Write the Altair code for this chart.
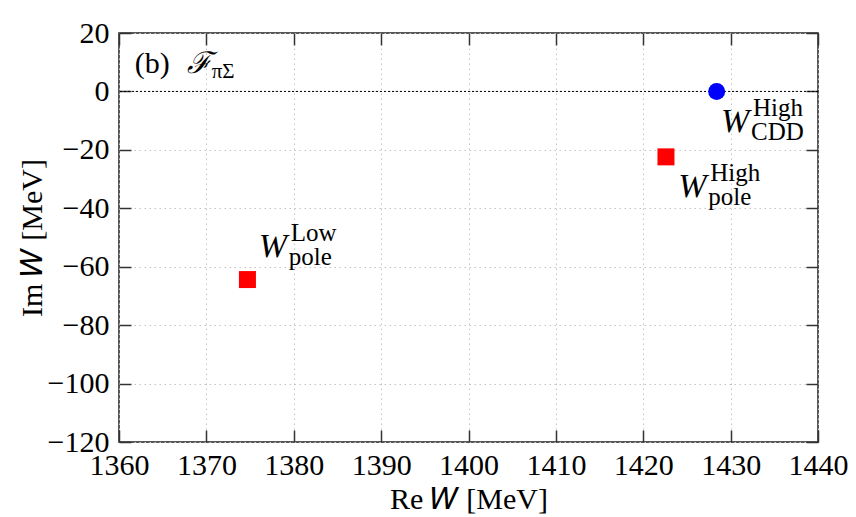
import altair as alt
import pandas as pd

# ---- data ----
pole_re = [1374.7, 1422.6]
pole_im = [-64.4, -22.4]
cdd_re = [1428.4]
cdd_im = [0.0]

# label anchors (left / baseline of the big W)
lab_re = [1428.9, 1424.0, 1376.0]
lab_im = [-13.8, -36.0, -56.6]
lab_sup = ["High", "High", "Low"]
lab_sub = ["CDD", "pole", "pole"]

panel_re = [1361.8]
panel_im = [6.3]
panel_txt = ["(b)"]
panel_sym = ["\u2131"]
panel_sub = ["\u03c0\u03a3"]

x_ticks = [1360, 1370, 1380, 1390, 1400, 1410, 1420, 1430, 1440]
y_ticks = [-120, -100, -80, -60, -40, -20, 0, 20]

W, H = 699, 409
FONT = "Liberation Serif"

poles = pd.DataFrame({"re": pole_re, "im": pole_im})
cdd = pd.DataFrame({"re": cdd_re, "im": cdd_im})
labels = pd.DataFrame({"re": lab_re, "im": lab_im, "sup": lab_sup, "sub": lab_sub, "w": ["W"] * 3})
panel = pd.DataFrame({"re": panel_re, "im": panel_im, "t": panel_txt, "s": panel_sym, "u": panel_sub})

xs = alt.Scale(domain=[1360, 1440], nice=False, zero=False)
ys = alt.Scale(domain=[-120, 20], nice=False, zero=False)

tick_style = dict(labels=False, domain=False, grid=False, title=None, ticks=True,
                  tickSize=12, tickWidth=1.5, tickColor="#333333")

label_style = dict(labelFont=FONT, labelFontSize=30, labelColor="black",
                   titleFont=FONT, titleFontSize=30, titleColor="black", titleFontWeight="normal",
                   labelOverlap=False, labelFlush=False, ticks=False, domain=False, grid=True,
                   format="d")

main_x = alt.Axis(values=x_ticks, orient="bottom", title="Re \U0001D44A [MeV]",
                  labelPadding=8, titlePadding=4, **label_style)
main_y = alt.Axis(values=y_ticks, orient="left", title="Im \U0001D44A [MeV]",
                  labelPadding=10, titlePadding=0, **label_style)

squares = alt.Chart(poles).mark_square(color="#ff0000", size=289, opacity=1).encode(
    x=alt.X("re:Q", scale=xs, axis=main_x),
    y=alt.Y("im:Q", scale=ys, axis=main_y),
)

circle = alt.Chart(cdd).mark_circle(color="#0000ff", size=289, opacity=1).encode(
    x=alt.X("re:Q", scale=xs, axis=alt.Axis(values=x_ticks, orient="top", offset=-H, **tick_style)),
    y=alt.Y("im:Q", scale=ys, axis=alt.Axis(values=y_ticks, orient="right", offset=-W, **tick_style)),
)

zero = alt.Chart(cdd).mark_rule(color="black", strokeDash=[2, 2], strokeWidth=1).encode(
    y=alt.Y("im:Q", scale=ys, axis=None),
)

wtext = alt.Chart(labels).mark_text(font=FONT, fontStyle="italic", fontSize=34, align="left",
                                     baseline="alphabetic", color="black").encode(
    x=alt.X("re:Q", scale=xs, axis=alt.Axis(values=x_ticks, orient="bottom", offset=-H, **tick_style)),
    y=alt.Y("im:Q", scale=ys, axis=alt.Axis(values=y_ticks, orient="left", offset=-W, **tick_style)),
    text="w:N",
)
suptext = alt.Chart(labels).mark_text(font=FONT, fontSize=25, align="left", baseline="alphabetic",
                                       dx=32, dy=-16, color="black").encode(
    x=alt.X("re:Q", scale=xs, axis=None), y=alt.Y("im:Q", scale=ys, axis=None), text="sup:N")
subtext = alt.Chart(labels).mark_text(font=FONT, fontSize=25, align="left", baseline="alphabetic",
                                       dx=30, dy=8, color="black").encode(
    x=alt.X("re:Q", scale=xs, axis=None), y=alt.Y("im:Q", scale=ys, axis=None), text="sub:N")

p1 = alt.Chart(panel).mark_text(font=FONT, fontSize=30, align="left", baseline="alphabetic",
                                 color="black").encode(
    x=alt.X("re:Q", scale=xs, axis=None), y=alt.Y("im:Q", scale=ys, axis=None), text="t:N")
p2 = alt.Chart(panel).mark_text(font=FONT, fontSize=30, fontStyle="italic", align="left",
                                 baseline="alphabetic", dx=52, color="black").encode(
    x=alt.X("re:Q", scale=xs, axis=None), y=alt.Y("im:Q", scale=ys, axis=None), text="s:N")
p3 = alt.Chart(panel).mark_text(font=FONT, fontSize=21, align="left", baseline="alphabetic",
                                 dx=77, dy=5, color="black").encode(
    x=alt.X("re:Q", scale=xs, axis=None), y=alt.Y("im:Q", scale=ys, axis=None), text="u:N")

chart = alt.layer(zero, squares, circle, wtext, suptext, subtext, p1, p2, p3).resolve_axis(
    x="independent", y="independent"
).properties(
    width=W, height=H,
    autosize=alt.AutoSizeParams(type="none"),
    padding={"left": 111, "top": 25, "right": 30, "bottom": 75},
    background="white",
).configure_view(
    stroke="#222222", strokeWidth=1.5
).configure_axis(
    gridColor="#c4c4c4", gridDash=[1.5, 3.5], gridWidth=1,
)

chart.save("out.html", embed_options={"renderer": "svg", "actions": False})
